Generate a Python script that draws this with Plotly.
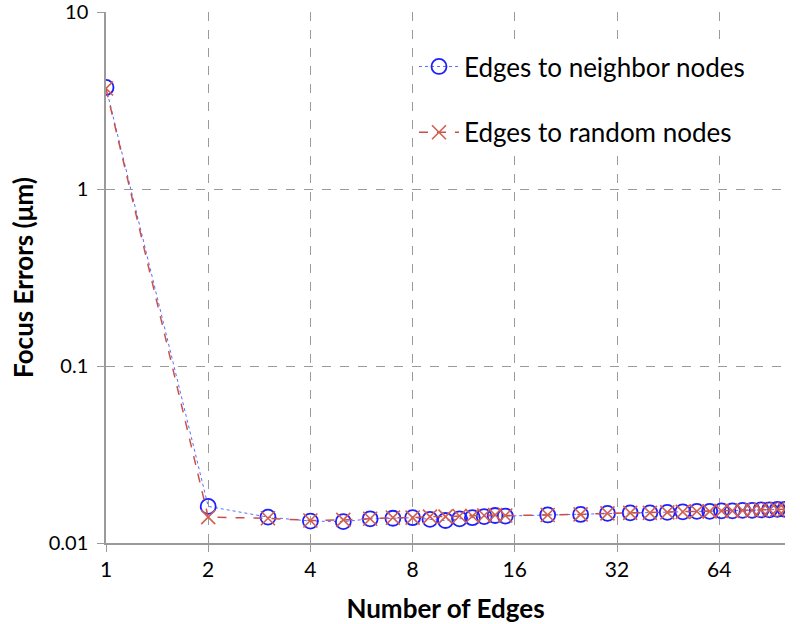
import plotly.graph_objects as go

edges = [1, 2, 3, 4, 5, 6, 7, 8, 9, 10, 11, 12, 13, 14, 15, 20, 25, 30, 35, 40,
         45, 50, 55, 60, 65, 70, 75, 80, 85, 90, 95, 100]
neighbor_err = [3.75, 0.0161, 0.0140, 0.0133, 0.0132, 0.0137, 0.0138, 0.0139, 0.0136, 0.0134,
                0.0137, 0.0139, 0.0141, 0.0143, 0.0142, 0.0144, 0.0145, 0.0147, 0.0148, 0.0148,
                0.0149, 0.0150, 0.0151, 0.0151, 0.0152, 0.0152, 0.0153, 0.0153, 0.0154, 0.0154,
                0.0155, 0.0155]
random_err = [3.70, 0.0140, 0.0138, 0.0134, 0.0135, 0.0137, 0.0139, 0.0139, 0.0141, 0.0141,
              0.0142, 0.0142, 0.0143, 0.0144, 0.0143, 0.0144, 0.0145, 0.0147, 0.0148, 0.0148,
              0.0149, 0.0150, 0.0151, 0.0151, 0.0152, 0.0152, 0.0153, 0.0153, 0.0154, 0.0154,
              0.0155, 0.0155]

x_ticks = [1, 2, 4, 8, 16, 32, 64]
y_ticks = [0.01, 0.1, 1, 10]
y_tick_text = ["0.01", "0.1", "1", "10"]

FONT = "Lato"
GRID = "#9a9a9a"
PAD = "\u2005"

fig = go.Figure()
fig.add_trace(go.Scatter(
    x=edges, y=neighbor_err, name="Edges to neighbor nodes", mode="lines+markers",
    legendgroup="a",
    line=dict(color="#5a6cff", width=1, dash="dot"),
    marker=dict(symbol="circle-open", size=15, color="#1f1fff", line=dict(width=1.8, color="#1f1fff")),
))
fig.add_trace(go.Scatter(
    x=edges, y=random_err, name="Edges to random nodes", mode="lines+markers",
    legendgroup="b",
    line=dict(color="#c8504a", width=1.5, dash="dash"),
    marker=dict(symbol="x-thin-open", size=14, color="#d0604f", line=dict(width=1.6, color="#d0604f")),
))

fig.update_layout(
    width=800, height=624,
    margin=dict(l=106, r=15, t=12, b=81),
    paper_bgcolor="white", plot_bgcolor="white",
    font=dict(family=FONT, color="black", size=20),
    legend=dict(x=0.4536, y=0.9415, xanchor="left", yanchor="top",
                bgcolor="white", font=dict(family=FONT, size=26),
                tracegroupgap=29, traceorder="grouped", itemwidth=40),
    showlegend=True,
)
fig.update_xaxes(
    type="log", range=[0, 2.0], tickvals=x_ticks, ticktext=[str(v) for v in x_ticks],
    showgrid=True, gridcolor=GRID, griddash="dash", gridwidth=1,
    showline=True, linecolor=GRID, linewidth=1.5,
    ticks="outside", ticklen=7, tickcolor=GRID,
    tickfont=dict(size=21, family=FONT), ticklabeloverflow="allow",
    title=dict(text="<b>Number of Edges</b>", font=dict(size=26, family=FONT), standoff=20),
    zeroline=False, automargin=False,
)
fig.update_yaxes(
    type="log", range=[-2, 1.0003], tickvals=y_ticks, ticktext=[t + PAD for t in y_tick_text],
    showgrid=True, gridcolor=GRID, griddash="dash", gridwidth=1,
    showline=True, linecolor=GRID, linewidth=1.5,
    ticks="outside", ticklen=7, tickcolor=GRID,
    tickfont=dict(size=20, family=FONT), ticklabeloverflow="allow",
    title=dict(text="<b>Focus Errors (μm)</b>", font=dict(size=26, family=FONT), standoff=8),
    zeroline=False, automargin=False,
)

fig.write_html("out.html", config={"displayModeBar": False},
               post_script="document.body.style.margin='0';")
